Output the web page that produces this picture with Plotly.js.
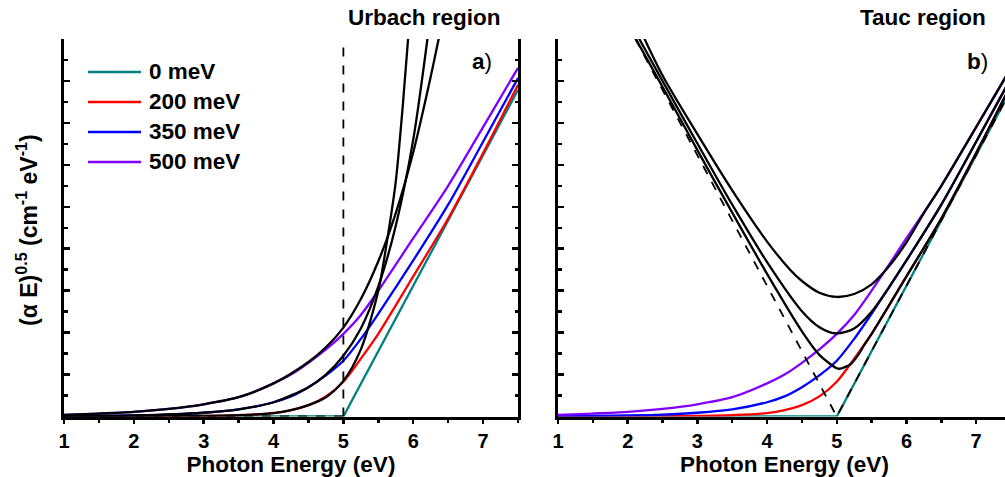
<!DOCTYPE html>
<html>
<head>
<meta charset="utf-8">
<script src="https://cdn.plot.ly/plotly-3.0.1.min.js"></script>
<style>
html,body{margin:0;padding:0;overflow:hidden;background:#fff;}
#chart{width:1015px;height:477px;}
</style>
</head>
<body>
<div id="chart"></div>
<script>
// ---------- data ----------
const seriesNames = ["0 meV", "200 meV", "350 meV", "500 meV"];
const seriesColors = ["#008080", "#ff0000", "#0000ff", "#7f00ff"];

const energy0 = [1, 5, 7.5];
const value0 = [0, 0, 7.79];

const energyGrid = [1, 1.5, 2, 2.5, 3, 3.5, 4, 4.25, 4.5, 4.75, 5, 5.25, 5.5, 5.75, 6, 6.5, 7, 7.5];
const value200 = [0, 0, 0.002, 0.005, 0.012, 0.03, 0.08, 0.15, 0.27, 0.48, 0.83, 1.38, 1.97, 2.65, 3.34, 4.72, 6.28, 7.91];
const value350 = [0.01, 0.015, 0.025, 0.045, 0.09, 0.17, 0.34, 0.48, 0.70, 0.98, 1.33, 1.85, 2.45, 3.08, 3.72, 5.05, 6.55, 8.07];
const value500 = [0.04, 0.07, 0.11, 0.18, 0.29, 0.46, 0.79, 1.0, 1.28, 1.6, 1.97, 2.42, 3.0, 3.62, 4.25, 5.5, 6.9, 8.31];

// Urbach fits (panel a)
const urbachE200 = [1, 2, 3, 3.5, 4, 4.25, 4.5, 4.75, 5, 5.25, 5.5, 5.65, 5.75, 5.85, 5.95];
const urbachV200 = [0, 0.002, 0.012, 0.03, 0.08, 0.15, 0.27, 0.46, 0.85, 1.6, 3.0, 4.45, 5.6, 7.4, 9.5];
const urbachE350 = [1, 2, 3, 3.5, 4, 4.5, 4.75, 5, 5.25, 5.5, 5.75, 6, 6.25];
const urbachV350 = [0.01, 0.025, 0.09, 0.17, 0.34, 0.70, 1.0, 1.45, 2.1, 3.1, 4.55, 6.6, 9.6];
const urbachE500 = [1, 1.5, 2, 2.5, 3, 3.5, 4, 4.5, 4.75, 5, 5.25, 5.5, 5.75, 6, 6.25, 6.45];
const urbachV500 = [0.04, 0.07, 0.11, 0.18, 0.29, 0.46, 0.79, 1.3, 1.65, 2.12, 2.8, 3.7, 4.85, 6.3, 8.1, 9.7];

// Tauc fits (panel b)
const taucE200 = [2.1, 2.5, 3, 3.5, 4, 4.5, 4.75, 5, 5.05, 5.2, 5.3, 5.4, 5.5, 5.75, 6, 6.5, 7, 7.5];
const taucV200 = [9.05, 7.86, 6.35, 4.86, 3.40, 2.03, 1.47, 1.15, 1.14, 1.25, 1.45, 1.72, 1.97, 2.65, 3.34, 4.72, 6.28, 7.91];
const taucE350 = [2.15, 2.5, 3, 3.5, 4, 4.5, 4.75, 5, 5.25, 5.5, 5.75, 6, 6.5, 7, 7.5];
const taucV350 = [9.05, 8.0, 6.51, 5.05, 3.68, 2.51, 2.13, 1.98, 2.1, 2.5, 3.08, 3.72, 5.05, 6.55, 8.07];
const taucE500 = [2.2, 2.5, 3, 3.5, 4, 4.33, 4.5, 4.75, 5, 5.25, 5.5, 5.75, 6, 6.25, 6.5, 7, 7.5];
const taucV500 = [9.15, 8.13, 6.73, 5.39, 4.17, 3.5, 3.23, 2.95, 2.85, 2.92, 3.15, 3.58, 4.15, 4.85, 5.5, 6.9, 8.31];

// reference lines
const bandGap = 5;
const edgeE = [2.11, 5, 7.5];
const edgeV = [9.0, 0, 7.79];

const xTickLabels = ["1", "2", "3", "4", "5", "6", "7"];
const xTickValues = [1, 2, 3, 4, 5, 6, 7];
const xMinorValues = [1.5, 2.5, 3.5, 4.5, 5.5, 6.5, 7.5];

// ---------- layout helpers ----------
const W = 1015, H = 477;
const FONT = "Liberation Sans, Arial, Helvetica, sans-serif";
const px = p => p / W;
const py = p => 1 - p / H;

const lineW = 2.3;
const colored = [[energy0, value0], [energyGrid, value200], [energyGrid, value350], [energyGrid, value500]];
const traces = [];

function addPanel(xa, ya, fits) {
  colored.forEach((d, i) => {
    traces.push({x: d[0], y: d[1], xaxis: xa, yaxis: ya, mode: "lines", showlegend: false,
      line: {color: seriesColors[i], width: lineW, shape: i === 0 ? "linear" : "spline", smoothing: 0.8},
      hoverinfo: "skip"});
  });
  fits.forEach(f => {
    traces.push({x: f[0], y: f[1], xaxis: xa, yaxis: ya, mode: "lines", showlegend: false,
      line: {color: "#000", width: lineW, shape: "spline", smoothing: 0.8}, hoverinfo: "skip"});
  });
}
addPanel("x", "y", [[urbachE200, urbachV200], [urbachE350, urbachV350], [urbachE500, urbachV500]]);
traces.push({x: [bandGap, bandGap], y: [0, 9], xaxis: "x", yaxis: "y", mode: "lines", showlegend: false,
  line: {color: "#000", width: 1.8, dash: "dash"}, hoverinfo: "skip"});
traces.push({x: [1, bandGap], y: [0, 0], xaxis: "x", yaxis: "y", mode: "lines", showlegend: false,
  line: {color: "#000", width: 1.8, dash: "dash"}, hoverinfo: "skip"});
addPanel("x2", "y2", [[taucE200, taucV200], [taucE350, taucV350], [taucE500, taucV500]]);
traces.push({x: edgeE, y: edgeV, xaxis: "x2", yaxis: "y2", mode: "lines", showlegend: false,
  line: {color: "#000", width: 1.8, dash: "dash"}, hoverinfo: "skip"});

const yDom = [py(416.5), py(39)];
const AXW = 3;
function xAxisMain(dom, anchor) {
  return {domain: dom, anchor: anchor, range: [1, 7.5], showgrid: false, zeroline: false,
    showline: true, linecolor: "#000", linewidth: AXW, mirror: false,
    ticks: "outside", ticklen: 4, tickwidth: 2.5, tickcolor: "#000",
    tickvals: xTickValues, ticktext: xTickLabels, ticklabelstandoff: 0,
    minor: {tickvals: xMinorValues, ticks: "outside", ticklen: 3, tickwidth: 2.5, tickcolor: "#000"},
    tickfont: {family: FONT, size: 20, color: "#000", weight: "bold"},
    title: {text: "Photon Energy (eV)", font: {family: FONT, size: 22.5, color: "#000", weight: "bold"}, standoff: 5},
    automargin: false, fixedrange: true};
}
function xAxisOver(over, anchor) {
  return {overlaying: over, anchor: anchor, side: "bottom", range: [1, 7.5], showgrid: false, zeroline: false,
    showline: true, linecolor: "#000", linewidth: AXW, mirror: "ticks",
    ticks: "inside", ticklen: 6, tickwidth: 2.5, tickcolor: "#000", tickvals: xTickValues, showticklabels: false,
    minor: {tickvals: xMinorValues, ticks: "inside", ticklen: 3.5, tickwidth: 2.5, tickcolor: "#000"},
    automargin: false, fixedrange: true};
}
function yAxis(anchor) {
  return {domain: yDom, anchor: anchor, range: [0, 9], showgrid: false, zeroline: false,
    showline: true, linecolor: "#000", linewidth: AXW, mirror: "ticks",
    ticks: "inside", ticklen: 6, tickwidth: 2.5, tickcolor: "#000", dtick: 1, tick0: 0, showticklabels: false,
    minor: {dtick: 0.5, ticks: "inside", ticklen: 3.5, tickwidth: 2.5, tickcolor: "#000"},
    automargin: false, fixedrange: true};
}

const annotations = [
  {text: "Urbach region", x: px(503), y: py(18), xanchor: "right", yanchor: "middle"},
  {text: "Tauc region", x: px(988), y: py(18), xanchor: "right", yanchor: "middle"},
  {text: "<b>a</b>)", x: px(494), y: py(61), xanchor: "right", yanchor: "middle", weight: "normal"},
  {text: "<b>b</b>)", x: px(990), y: py(61), xanchor: "right", yanchor: "middle", weight: "normal"},
  {text: "(α E)<sup>0.5</sup> (cm<sup>-1</sup> eV<sup>-1</sup>)", x: px(27), y: py(230), xanchor: "center", yanchor: "middle", textangle: -90, size: 23}
].map(a => Object.assign({xref: "paper", yref: "paper", showarrow: false,
  font: {family: FONT, size: a.size || 22.5, color: "#000", weight: a.weight || "bold"}}, a));
annotations.forEach(a => { delete a.size; delete a.weight; });

const shapes = [];
seriesNames.forEach((name, i) => {
  const yy = py(72 + 30 * i);
  shapes.push({type: "line", xref: "paper", yref: "paper", x0: px(88), x1: px(141), y0: yy, y1: yy,
    line: {color: seriesColors[i], width: 2.5}});
  annotations.push({text: name, xref: "paper", yref: "paper", x: px(147), y: yy, xanchor: "left", yanchor: "middle",
    showarrow: false, font: {family: FONT, size: 22.5, color: "#000", weight: "bold"}});
});

const layout = {
  width: W, height: H,
  margin: {l: 0, r: 0, t: 0, b: 0, autoexpand: false},
  paper_bgcolor: "#fff", plot_bgcolor: "#fff",
  showlegend: false,
  xaxis: xAxisMain([px(64), px(518)], "y"),
  xaxis2: xAxisMain([px(558), px(1011)], "y2"),
  xaxis3: xAxisOver("x", "y"),
  xaxis4: xAxisOver("x2", "y2"),
  yaxis: yAxis("x"),
  yaxis2: yAxis("x2"),
  annotations: annotations,
  shapes: shapes
};

Plotly.newPlot("chart", traces, layout, {staticPlot: true, displayModeBar: false});
</script>
</body>
</html>
